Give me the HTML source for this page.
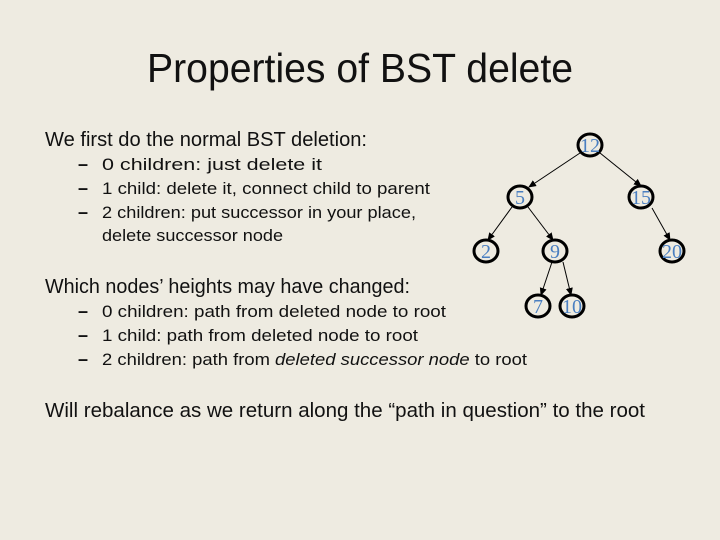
<!DOCTYPE html>
<html><head><meta charset="utf-8"><style>html,body{margin:0;padding:0;background:#eeebe1}svg{display:block}</style></head>
<body>
<svg width="720" height="540" viewBox="0 0 720 540" xmlns="http://www.w3.org/2000/svg">
<rect width="720" height="540" fill="#eeebe1"/>
<defs><marker id="a" markerWidth="8" markerHeight="8" refX="7" refY="4" orient="auto" markerUnits="userSpaceOnUse"><path d="M0,0.5 L8,4 L0,7.5 z" fill="#000"/></marker></defs>
<g font-family="Liberation Sans, sans-serif" fill="#111">
<text x="147" y="82" font-size="41" textLength="426" lengthAdjust="spacingAndGlyphs">Properties of BST delete</text>
<text x="45" y="146" font-size="20" textLength="322" lengthAdjust="spacingAndGlyphs">We first do the normal BST deletion:</text>
<text x="78" y="170" font-size="18" font-weight="bold">–</text>
<text x="102" y="170" font-size="17" textLength="220" lengthAdjust="spacingAndGlyphs">0 children: just delete it</text>
<text x="78" y="194" font-size="18" font-weight="bold">–</text>
<text x="102" y="194" font-size="17" textLength="328" lengthAdjust="spacingAndGlyphs">1 child: delete it, connect child to parent</text>
<text x="78" y="218" font-size="18" font-weight="bold">–</text>
<text x="102" y="218" font-size="17" textLength="314" lengthAdjust="spacingAndGlyphs">2 children: put successor in your place,</text>
<text x="102" y="241" font-size="17" textLength="181" lengthAdjust="spacingAndGlyphs">delete successor node</text>
<text x="45" y="293" font-size="20" textLength="365" lengthAdjust="spacingAndGlyphs">Which nodes’ heights may have changed:</text>
<text x="78" y="317" font-size="18" font-weight="bold">–</text>
<text x="102" y="317" font-size="17" textLength="344" lengthAdjust="spacingAndGlyphs">0 children: path from deleted node to root</text>
<text x="78" y="341" font-size="18" font-weight="bold">–</text>
<text x="102" y="341" font-size="17" textLength="316" lengthAdjust="spacingAndGlyphs">1 child: path from deleted node to root</text>
<text x="78" y="365" font-size="18" font-weight="bold">–</text>
<text x="102" y="365" font-size="17" textLength="425" lengthAdjust="spacingAndGlyphs">2 children: path from <tspan font-style="italic">deleted successor node</tspan>  to root</text>
<text x="45" y="417" font-size="20" textLength="600" lengthAdjust="spacingAndGlyphs">Will rebalance as we return along the “path in question” to the root</text>
</g>
<g stroke="#000" stroke-width="1" marker-end="url(#a)">
<line x1="580" y1="153" x2="529" y2="187"/>
<line x1="600" y1="153" x2="641" y2="186"/>
<line x1="512" y1="207" x2="488" y2="240"/>
<line x1="528" y1="207" x2="553" y2="240"/>
<line x1="652" y1="208" x2="670" y2="240"/>
<line x1="552" y1="262" x2="541" y2="295"/>
<line x1="563" y1="262" x2="571" y2="295"/>
</g>
<g fill="none" stroke="#000" stroke-width="3">
<ellipse cx="590" cy="145" rx="12" ry="11"/>
<ellipse cx="520" cy="197" rx="12" ry="11"/>
<ellipse cx="641" cy="197" rx="12" ry="11"/>
<ellipse cx="486" cy="251" rx="12" ry="11"/>
<ellipse cx="555" cy="251" rx="12" ry="11"/>
<ellipse cx="672" cy="251" rx="12" ry="11"/>
<ellipse cx="538" cy="306" rx="12" ry="11"/>
<ellipse cx="572" cy="306" rx="12" ry="11"/>
</g>
<g font-family="Liberation Serif, serif" font-size="20" fill="#4a7fc1" text-anchor="middle">
<text x="590" y="152">12</text>
<text x="520" y="204">5</text>
<text x="641" y="204">15</text>
<text x="486" y="258">2</text>
<text x="555" y="258">9</text>
<text x="672" y="258">20</text>
<text x="538" y="313">7</text>
<text x="572" y="313">10</text>
</g>
</svg>
</body></html>
